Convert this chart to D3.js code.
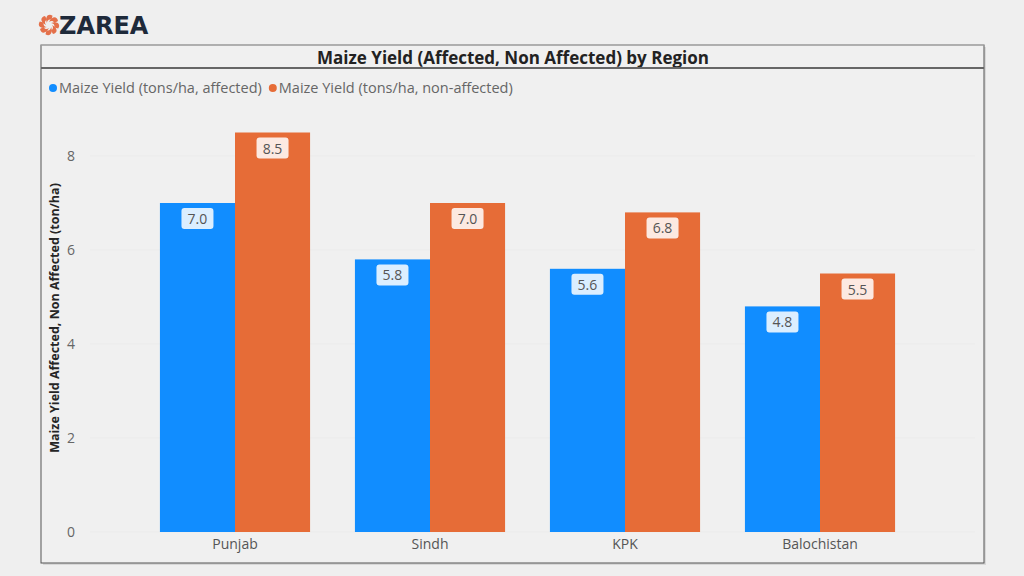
<!DOCTYPE html>
<html lang="en">
<head>
    <meta charset="UTF-8">
    <title>Maize Yield by Region</title>
    <style>
        body {
            margin: 0;
            background: #efefef;
            font-family: 'Open Sans', sans-serif;
        }
        #chart {
            width: 1024px;
            height: 576px;
        }
    </style>
</head>
<body>
    <div id="chart"></div>

    <script src="https://d3js.org/d3.v7.min.js"></script>
    <script>
        // Chart data
        const regions = ['Punjab', 'Sindh', 'KPK', 'Balochistan'];
        const seriesNames = ['Maize Yield (tons/ha, affected)', 'Maize Yield (tons/ha, non-affected)'];
        const affected = [7.0, 5.8, 5.6, 4.8];
        const nonAffected = [8.5, 7.0, 6.8, 5.5];
        const yTicks = [0, 2, 4, 6, 8];
        const colors = ['#118DFF', '#E66C37'];

        const width = 1024, height = 576;
        const panel = { x: 41, y: 45, w: 943, h: 518 };

        const svg = d3.select('#chart')
            .append('svg')
            .attr('width', width)
            .attr('height', height);

        svg.append('rect')
            .attr('width', width)
            .attr('height', height)
            .attr('fill', '#efefef');

        // Logo
        const logo = svg.append('g').attr('transform', 'translate(49,25)');
        d3.range(8).forEach(i => {
            logo.append('path')
                .attr('d', 'M0,-3 C3,-9 8,-9 9,-4 L5.5,-2 C4,-4.5 2,-4.5 0,-3 Z')
                .attr('transform', `rotate(${i * 45})`)
                .attr('fill', '#e4704a');
        });
        svg.append('text')
            .attr('x', 59)
            .attr('y', 34)
            .attr('font-family', 'DejaVu Sans, sans-serif')
            .attr('font-weight', 'bold')
            .attr('font-size', '24px')
            .attr('fill', '#1e2a3a')
            .text('ZAREA');

        // Panel with shadow
        svg.append('rect')
            .attr('x', panel.x + 2)
            .attr('y', panel.y + 2)
            .attr('width', panel.w)
            .attr('height', panel.h)
            .attr('fill', '#d8d8d8');
        svg.append('rect')
            .attr('x', panel.x)
            .attr('y', panel.y)
            .attr('width', panel.w)
            .attr('height', panel.h)
            .attr('fill', '#f0f0f0')
            .attr('stroke', '#555')
            .attr('stroke-width', 1);
        svg.append('line')
            .attr('x1', panel.x).attr('x2', panel.x + panel.w)
            .attr('y1', panel.y).attr('y2', panel.y)
            .attr('stroke', '#bbb');

        // Title
        svg.append('text')
            .attr('x', 513)
            .attr('y', 64)
            .attr('text-anchor', 'middle')
            .attr('font-size', '17px')
            .attr('font-weight', 'bold')
            .attr('fill', '#222')
            .text('Maize Yield (Affected, Non Affected) by Region');
        svg.append('line')
            .attr('x1', panel.x).attr('x2', panel.x + panel.w)
            .attr('y1', 68).attr('y2', 68)
            .attr('stroke', '#666')
            .attr('stroke-width', 2);

        // Legend
        const legend = svg.append('g').attr('transform', 'translate(50,88)');
        let lx = 0;
        seriesNames.forEach((name, i) => {
            legend.append('circle')
                .attr('cx', lx + 3)
                .attr('cy', 0)
                .attr('r', 4)
                .attr('fill', colors[i]);
            const t = legend.append('text')
                .attr('x', lx + 9)
                .attr('y', 5)
                .attr('font-size', '14.5px')
                .attr('fill', '#666')
                .text(name);
            lx += 9 + t.node().getComputedTextLength() + 8;
        });

        // Scales
        const y = d3.scaleLinear().domain([0, 8]).range([532, 156]);
        const x0 = d3.scaleBand().domain(regions).range([137.5, 917.5]).paddingInner(0.23).paddingOuter(0.115);
        const x1 = d3.scaleBand().domain([0, 1]).range([0, x0.bandwidth()]);

        // Grid lines
        svg.append('g')
            .selectAll('line')
            .data(yTicks)
            .enter()
            .append('line')
            .attr('x1', 90).attr('x2', 975)
            .attr('y1', d => y(d)).attr('y2', d => y(d))
            .attr('stroke', '#ebebeb')
            .attr('stroke-width', 1);

        // Y axis
        const yAxis = svg.append('g')
            .attr('transform', 'translate(75,0)')
            .call(d3.axisLeft(y).tickValues(yTicks).tickSize(0).tickPadding(0));
        yAxis.select('.domain').remove();
        yAxis.selectAll('text')
            .attr('font-family', 'Open Sans, sans-serif')
            .attr('font-size', '14px')
            .attr('fill', '#666');

        svg.append('text')
            .attr('transform', 'translate(59,318) rotate(-90)')
            .attr('text-anchor', 'middle')
            .attr('font-size', '12.5px')
            .attr('font-weight', 'bold')
            .attr('fill', '#252525')
            .text('Maize Yield Affected, Non Affected (ton/ha)');

        // X axis
        const xAxis = svg.append('g')
            .attr('transform', 'translate(0,532)')
            .call(d3.axisBottom(x0).tickSize(0).tickPadding(7));
        xAxis.select('.domain').remove();
        xAxis.selectAll('text')
            .attr('font-family', 'Open Sans, sans-serif')
            .attr('font-size', '14px')
            .attr('fill', '#555');

        // Bars
        const rows = regions.map((r, i) => ({ region: r, values: [affected[i], nonAffected[i]] }));
        const groups = svg.append('g')
            .selectAll('g')
            .data(rows)
            .enter()
            .append('g')
            .attr('transform', d => `translate(${x0(d.region)},0)`);

        const cells = groups.selectAll('g')
            .data(d => d.values.map((v, i) => ({ v, i })))
            .enter()
            .append('g');

        cells.append('rect')
            .attr('x', d => x1(d.i))
            .attr('y', d => y(d.v))
            .attr('width', x1.bandwidth())
            .attr('height', d => y(0) - y(d.v))
            .attr('fill', d => colors[d.i]);

        // Data labels
        cells.append('rect')
            .attr('x', d => x1(d.i) + x1.bandwidth() / 2 - 16)
            .attr('y', d => y(d.v) + 5)
            .attr('width', 32)
            .attr('height', 21)
            .attr('rx', 3)
            .attr('fill', '#ffffff')
            .attr('fill-opacity', 0.85);

        cells.append('text')
            .attr('x', d => x1(d.i) + x1.bandwidth() / 2)
            .attr('y', d => y(d.v) + 21)
            .attr('text-anchor', 'middle')
            .attr('font-size', '14px')
            .attr('fill', '#555')
            .text(d => d.v.toFixed(1));
    </script>
</body>
</html>
